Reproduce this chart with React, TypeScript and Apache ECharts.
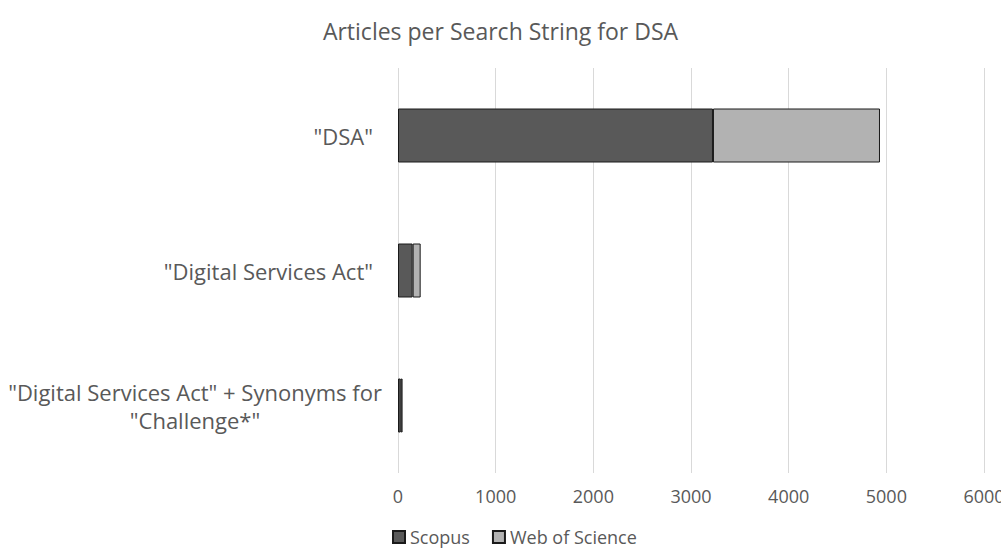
import React, { useEffect, useRef } from "react";
import * as echarts from "echarts";

const categories = ['"DSA"', '"Digital Services Act"', '"Digital Services Act" + Synonyms for\n"Challenge*"'];
const scopus = [3225, 150, 28];
const webOfScience = [1710, 82, 19];
const seriesNames = ["Scopus", "Web of Science"];

const FONT = "'Open Sans', sans-serif";

export default function App() {
  const ref = useRef<HTMLDivElement>(null);
  useEffect(() => {
    if (!ref.current) return;
    const chart = echarts.init(ref.current, undefined, { renderer: "svg" });
    chart.setOption({
      animation: false,
      title: {
        text: "Articles per Search String for DSA",
        left: "center",
        top: 14,
        textStyle: { fontFamily: FONT, fontSize: 23, fontWeight: "normal", color: "#595959" },
      },
      legend: {
        top: 522,
        left: 387,
        itemWidth: 12,
        itemHeight: 12,
        itemGap: 22,
        icon: "rect",
        textStyle: { fontFamily: FONT, fontSize: 18, color: "#595959", lineHeight: 20 },
      },
      grid: { left: 398, right: 17, top: 68, bottom: 77, outerBoundsMode: "none" },
      xAxis: {
        type: "value",
        min: 0,
        max: 6000,
        interval: 1000,
        axisLine: { show: false },
        axisTick: { show: false },
        axisLabel: {
          fontFamily: FONT,
          fontSize: 18,
          color: "#595959",
          margin: 14,
          formatter: (v: number) => String(v),
        },
        splitLine: { lineStyle: { color: "#d9d9d9", width: 1 } },
      },
      yAxis: {
        type: "category",
        data: categories,
        inverse: true,
        axisLine: { show: false },
        axisTick: { show: false },
        axisLabel: {
          fontFamily: FONT,
          fontSize: 22,
          color: "#595959",
          margin: 25,
          align: "right",
          formatter: (v: string) => {
            const lines = v.split("\n");
            if (lines.length === 1) return "{s|" + v + "}";
            return lines.map((l) => "{m|" + l + "}").join("\n");
          },
          rich: {
            s: { fontFamily: FONT, fontSize: 22, color: "#595959" },
            m: { fontFamily: FONT, fontSize: 22, color: "#595959", width: 356, align: "center", lineHeight: 28 },
          },
        },
      },
      series: [
        {
          name: seriesNames[0],
          type: "bar",
          stack: "total",
          data: scopus,
          barCategoryGap: "60%",
          itemStyle: { color: "#595959", borderColor: "#1a1a1a", borderWidth: 1 },
        },
        {
          name: seriesNames[1],
          type: "bar",
          stack: "total",
          data: webOfScience,
          barCategoryGap: "60%",
          itemStyle: { color: "#b2b2b2", borderColor: "#1a1a1a", borderWidth: 1 },
        },
      ],
    });
    return () => chart.dispose();
  }, []);
  return <div ref={ref} style={{ width: 1001, height: 550, position: "absolute", left: 0, top: 0 }} />;
}
